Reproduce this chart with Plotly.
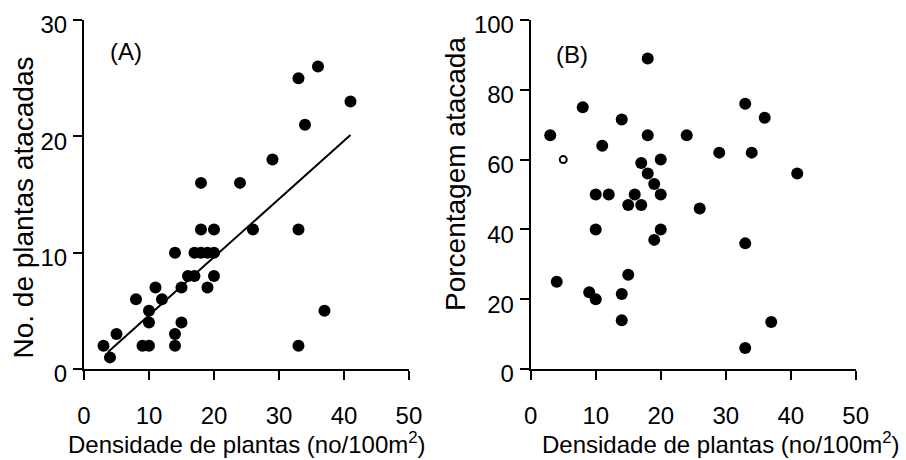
import plotly.graph_objects as go

# ---------------- data ----------------
# Panel A: density vs number of attacked plants
dens_a = [3, 4, 5, 8, 9, 10, 10, 10, 11, 12, 14, 14, 14, 15, 15, 16, 17, 17,
          18, 18, 18, 19, 19, 20, 20, 20, 24, 26, 29, 33, 33, 33, 34, 36, 37, 41]
atac_a = [2, 1, 3, 6, 2, 2, 5, 4, 7, 6, 10, 3, 2, 7, 4, 8, 8, 10,
          12, 16, 10, 7, 10, 12, 10, 8, 16, 12, 18, 25, 12, 2, 21, 26, 5, 23]

# regression line for panel A
fit_intercept = -0.38
fit_slope = 0.5
fit_x = [3.7, 41]

# Panel B: density vs percentage attacked
dens_b = [3, 4, 8, 9, 10, 10, 10, 11, 12, 14, 14, 14, 15, 15, 16, 17, 17,
          18, 18, 18, 19, 19, 20, 20, 20, 24, 26, 29, 33, 33, 33, 34, 36, 37, 41]
pct_b = [67, 25, 75, 22, 20, 50, 40, 64, 50, 71.5, 21.5, 14, 27, 47, 50, 47, 59,
         89, 67, 56, 53, 37, 60, 50, 40, 67, 46, 62, 76, 36, 6, 62, 72, 13.5, 56]
# faint (partly printed) point in panel B
dens_b_faint = [5]
pct_b_faint = [60]

x_ticks = [0, 10, 20, 30, 40, 50]
y_ticks_a = [0, 10, 20, 30]
y_ticks_b = [0, 20, 40, 60, 80, 100]

x_title = "Densidade de plantas (no/100m<sup>2</sup>)"
y_title_a = "No. de plantas atacadas"
y_title_b = "Porcentagem atacada"

FONT = "Liberation Sans, Arial, Helvetica, sans-serif"

fig = go.Figure()

mk = dict(color="black", size=12, line=dict(width=0))
fig.add_trace(go.Scatter(x=dens_a, y=atac_a, mode="markers", marker=mk,
                         xaxis="x", yaxis="y", showlegend=False, cliponaxis=False))
fig.add_trace(go.Scatter(x=fit_x, y=[fit_intercept + fit_slope * v for v in fit_x],
                         mode="lines", line=dict(color="black", width=2),
                         xaxis="x", yaxis="y", showlegend=False))
fig.add_trace(go.Scatter(x=dens_b, y=pct_b, mode="markers", marker=mk,
                         xaxis="x2", yaxis="y2", showlegend=False, cliponaxis=False))
fig.add_trace(go.Scatter(x=dens_b_faint, y=pct_b_faint, mode="markers",
                         marker=dict(color="black", size=7, symbol="circle-open",
                                     line=dict(width=2, color="black")),
                         xaxis="x2", yaxis="y2", showlegend=False))

ax_common = dict(showline=True, linecolor="black", linewidth=2, ticks="outside",
                 ticklen=9, tickwidth=2, tickcolor="black", showgrid=False,
                 zeroline=False, tickfont=dict(family=FONT, size=24, color="black"),
                 fixedrange=True, automargin=False)

ydom = [0.1978, 0.9565]
fig.update_layout(
    width=906, height=460,
    margin=dict(l=0, r=0, t=0, b=0, autoexpand=False),
    paper_bgcolor="white", plot_bgcolor="white",
    xaxis=dict(domain=[0.0927, 0.4514], range=[0, 50], tickvals=x_ticks,
               anchor="y", ticklabelstandoff=15, **ax_common),
    yaxis=dict(domain=ydom, range=[0, 30], tickvals=y_ticks_a, anchor="x",
               ticklabelstandoff=1, ticklabelshift=5, **ax_common),
    xaxis2=dict(domain=[0.5858, 0.9445], range=[0, 50], tickvals=x_ticks,
                anchor="y2", ticklabelstandoff=15, **ax_common),
    yaxis2=dict(domain=ydom, range=[0, 100], tickvals=y_ticks_b, anchor="x2",
                ticklabelstandoff=1, ticklabelshift=5, **ax_common),
    annotations=[
        dict(text="(A)", x=0.1391, y=0.887, xref="paper", yref="paper",
             showarrow=False, xanchor="center", yanchor="middle",
             font=dict(family=FONT, size=24, color="black")),
        dict(text="(B)", x=0.6313, y=0.881, xref="paper", yref="paper",
             showarrow=False, xanchor="center", yanchor="middle",
             font=dict(family=FONT, size=24, color="black")),
        dict(text=y_title_a, x=0.0254, y=0.5489, xref="paper", yref="paper",
             showarrow=False, textangle=-90, xanchor="center", yanchor="middle",
             font=dict(family=FONT, size=28, color="black")),
        dict(text=y_title_b, x=0.5022, y=0.6217, xref="paper", yref="paper",
             showarrow=False, textangle=-90, xanchor="center", yanchor="middle",
             font=dict(family=FONT, size=28, color="black")),
        dict(text=x_title, x=0.2726, y=0.0, xref="paper", yref="paper",
             showarrow=False, xanchor="center", yanchor="bottom",
             font=dict(family=FONT, size=24, color="black")),
        dict(text=x_title, x=0.7958, y=0.0, xref="paper", yref="paper",
             showarrow=False, xanchor="center", yanchor="bottom",
             font=dict(family=FONT, size=24, color="black")),
    ],
)

fig.write_html("out.html", config={"displayModeBar": False},
               post_script="document.body.style.margin='0px';document.body.style.padding='0px';")
